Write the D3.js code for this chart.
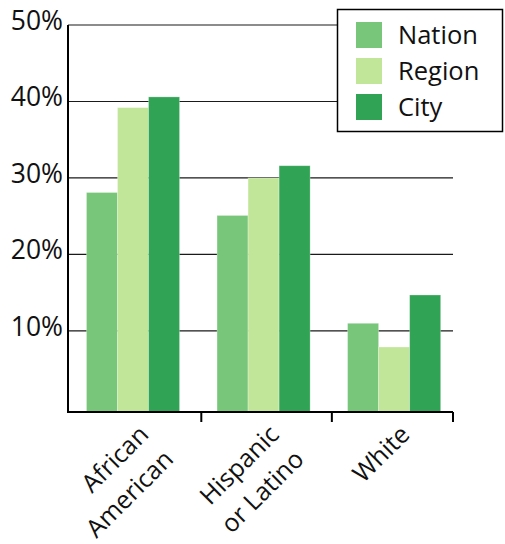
<!DOCTYPE html>
<html>
<head>
<meta charset="utf-8">
<script src="https://cdn.jsdelivr.net/npm/d3@7"></script>
<style>
  html, body { margin: 0; padding: 0; background: #fff; }
  svg { display: block; font-family: "Open Sans", "Noto Sans", sans-serif; }
</style>
</head>
<body>
<svg id="chart" width="505" height="544"></svg>
<script>
// Share of population by group, compared across nation, region and city
const categories = ["African American", "Hispanic or Latino", "White"];
const categoryLines = [["African", "American"], ["Hispanic", "or Latino"], ["White"]];
const seriesNames = ["Nation", "Region", "City"];
const nation = [28.1, 25.1, 11.0];
const region = [39.2, 30.0, 7.9];
const city = [40.6, 31.6, 14.7];
const yTicks = [10, 20, 30, 40, 50];
const colors = ["#78c679", "#c2e699", "#31a354"];

const seriesValues = [nation, region, city];
const rows = categories.map((c, i) => ({
  category: c,
  values: seriesNames.map((s, j) => ({ series: s, value: seriesValues[j][i] }))
}));

const svg = d3.select("#chart");
const plotLeft = 68, plotRight = 453, plotTop = 25, plotBottom = 412;

const y = d3.scaleLinear().domain([-0.6, 50]).range([plotBottom, plotTop]);
const x = d3.scaleBand().domain(categories).range([plotLeft, plotRight])
  .paddingInner(0.287).paddingOuter(0.118).align(0.6);
const xs = d3.scaleBand().domain(seriesNames).range([0, x.bandwidth()]);
const color = d3.scaleOrdinal().domain(seriesNames).range(colors);

// horizontal gridlines
svg.append("g").selectAll("line").data(yTicks).join("line")
  .attr("x1", plotLeft).attr("x2", plotRight)
  .attr("y1", d => y(d)).attr("y2", d => y(d))
  .attr("stroke", "#1a1a1a").attr("stroke-width", 1.2);

// y tick labels
svg.append("g").selectAll("text").data(yTicks).join("text")
  .attr("x", 63).attr("y", d => y(d) + 5)
  .attr("text-anchor", "end")
  .attr("font-size", 26.5)
  .attr("fill", "#111")
  .text(d => d + "%");

// bars
const groups = svg.append("g").selectAll("g").data(rows).join("g")
  .attr("transform", d => `translate(${x(d.category)},0)`);
groups.selectAll("rect").data(d => d.values).join("rect")
  .attr("x", d => xs(d.series))
  .attr("width", xs.bandwidth())
  .attr("y", d => y(d.value))
  .attr("height", d => y(y.domain()[0]) - y(d.value))
  .attr("fill", d => color(d.series))
  .attr("stroke", "rgba(255,255,255,0.35)")
  .attr("stroke-width", 0.8);

// axes
const axis = svg.append("g").attr("stroke", "#000").attr("stroke-width", 2).attr("fill", "none");
axis.append("path").attr("d", `M${plotLeft},${plotTop}V${plotBottom}H${plotRight}`);
const tickXs = categories.slice(1).map(c => x(c) - x.step() * x.paddingInner() / 2 + 3).concat([plotRight]);
axis.selectAll("line").data(tickXs).join("line")
  .attr("x1", d => d).attr("x2", d => d)
  .attr("y1", plotBottom).attr("y2", plotBottom + 10);

// rotated category labels
const labels = svg.append("g").selectAll("text").data(categories).join("text")
  .attr("transform", c => `translate(${x(c) + x.bandwidth() / 2 + 17},436) rotate(-45)`)
  .attr("text-anchor", "end")
  .attr("font-size", 25)
  .attr("fill", "#111");
labels.selectAll("tspan").data((c, i) => categoryLines[i]).join("tspan")
  .attr("x", 0)
  .attr("dy", (d, i) => i === 0 ? 0 : 35)
  .text(d => d);

// legend
const legend = svg.append("g");
legend.append("rect")
  .attr("x", 337.5).attr("y", 9.5).attr("width", 165).attr("height", 122)
  .attr("fill", "#fff").attr("stroke", "#000").attr("stroke-width", 1.5);
const items = legend.selectAll("g").data(seriesNames).join("g")
  .attr("transform", (d, i) => `translate(356,${22 + i * 36})`);
items.append("rect").attr("width", 26).attr("height", 26).attr("fill", d => color(d));
items.append("text").attr("x", 42).attr("y", 22)
  .attr("font-size", 25.5).attr("fill", "#111").text(d => d);
</script>
</body>
</html>
